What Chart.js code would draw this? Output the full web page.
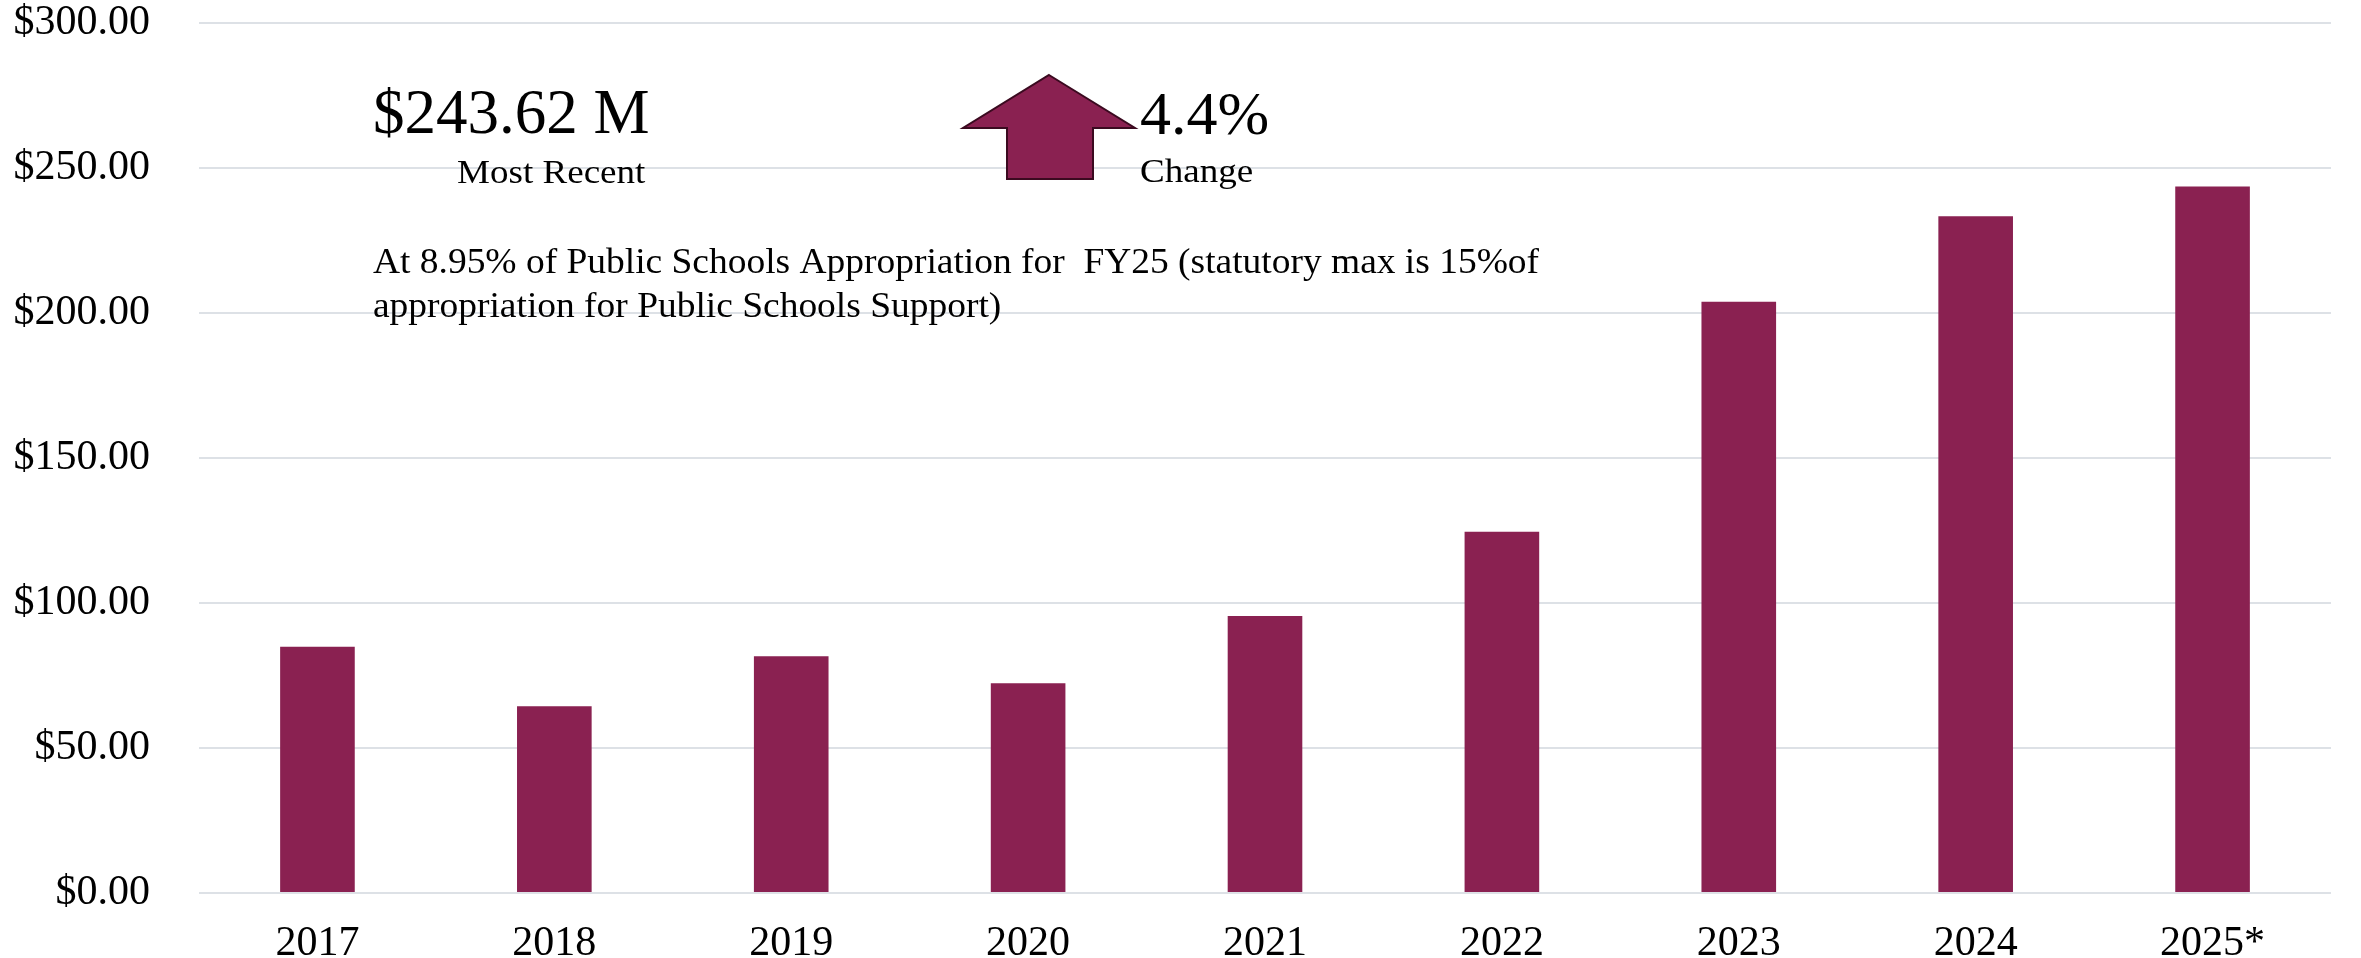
<!DOCTYPE html>
<html>
<head>
<meta charset="utf-8">
<script src="https://cdn.jsdelivr.net/npm/chart.js@4.4.1/dist/chart.umd.min.js"></script>
<style>
  html, body { margin: 0; padding: 0; background: #fff; }
  #wrap { width: 2361px; height: 958px; position: relative; }
</style>
</head>
<body>
<div id="wrap"><canvas id="appropChart"></canvas></div>
<script>
// fiscal years and appropriation ($ millions)
const years = ['2017', '2018', '2019', '2020', '2021', '2022', '2023', '2024', '2025*'];
const amounts = [84.9, 64.4, 81.6, 72.3, 95.5, 124.6, 203.9, 233.35, 243.62];
const yTicks = [0, 50, 100, 150, 200, 250, 300];

const headline = '$243.62 M';
const headlineSub = 'Most Recent';
const change = '4.4%';
const changeSub = 'Change';
const note = [
  'At 8.95% of Public Schools Appropriation for  FY25 (statutory max is 15%of',
  'appropriation for Public Schools Support)'
];

const maroon = '#8a2151';
const serif = '"Liberation Serif", "Times New Roman", serif';

// small text in the source is a bit wider than Liberation Serif, so stretch it
function wideText(ctx, text, x, y, size, sx) {
  ctx.save();
  ctx.font = size + 'px ' + serif;
  ctx.translate(x, y);
  ctx.scale(sx, 1);
  ctx.fillText(text, 0, 0);
  ctx.restore();
}

// the text block + arrow in the upper left
const calloutPlugin = {
  id: 'callout',
  afterDraw(chart) {
    const ctx = chart.ctx;
    ctx.save();
    ctx.fillStyle = '#000';
    ctx.textBaseline = 'alphabetic';
    ctx.textAlign = 'left';

    ctx.font = '63px ' + serif;
    ctx.fillText(headline, 373, 133);
    wideText(ctx, headlineSub, 457, 183, 34, 1.09);

    ctx.font = '62px ' + serif;
    ctx.fillText(change, 1140, 134);
    wideText(ctx, changeSub, 1140, 182, 34, 1.09);

    wideText(ctx, note[0], 373, 273, 35, 1.07);
    wideText(ctx, note[1], 373, 317, 35, 1.07);

    // up arrow
    ctx.beginPath();
    ctx.moveTo(1049, 75);
    ctx.lineTo(1135, 128);
    ctx.lineTo(1093, 128);
    ctx.lineTo(1093, 179);
    ctx.lineTo(1007, 179);
    ctx.lineTo(1007, 128);
    ctx.lineTo(963, 128);
    ctx.closePath();
    ctx.fillStyle = maroon;
    ctx.fill();
    ctx.lineWidth = 2;
    ctx.strokeStyle = '#3b0a20';
    ctx.stroke();
    ctx.restore();
  }
};

new Chart(document.getElementById('appropChart'), {
  type: 'bar',
  data: {
    labels: years,
    datasets: [{
      label: 'Appropriation',
      data: amounts,
      backgroundColor: maroon,
      borderWidth: 0,
      categoryPercentage: 1,
      barPercentage: 0.315
    }]
  },
  options: {
    responsive: true,
    maintainAspectRatio: false,
    animation: false,
    layout: { padding: { top: 23, right: 30, bottom: 0, left: 0 } },
    plugins: {
      legend: { display: false },
      tooltip: { enabled: false }
    },
    scales: {
      x: {
        grid: { display: false, drawTicks: false },
        border: { display: false },
        ticks: {
          color: '#000',
          padding: 26,
          maxRotation: 0,
          font: { family: serif, size: 42 }
        },
        afterFit(s) { s.height = 65; }
      },
      y: {
        min: 0,
        max: 300,
        afterBuildTicks(s) { s.ticks = yTicks.map(v => ({ value: v })); },
        grid: { color: '#dde1e6', lineWidth: 2, drawTicks: false },
        border: { display: false },
        ticks: {
          color: '#000',
          padding: 49,
          font: { family: serif, size: 42 },
          callback: v => '$' + Number(v).toFixed(2)
        },
        afterFit(s) { s.width = 199; s.paddingTop = 0; s.paddingBottom = 0; }
      }
    }
  },
  plugins: [calloutPlugin]
});
</script>
</body>
</html>
